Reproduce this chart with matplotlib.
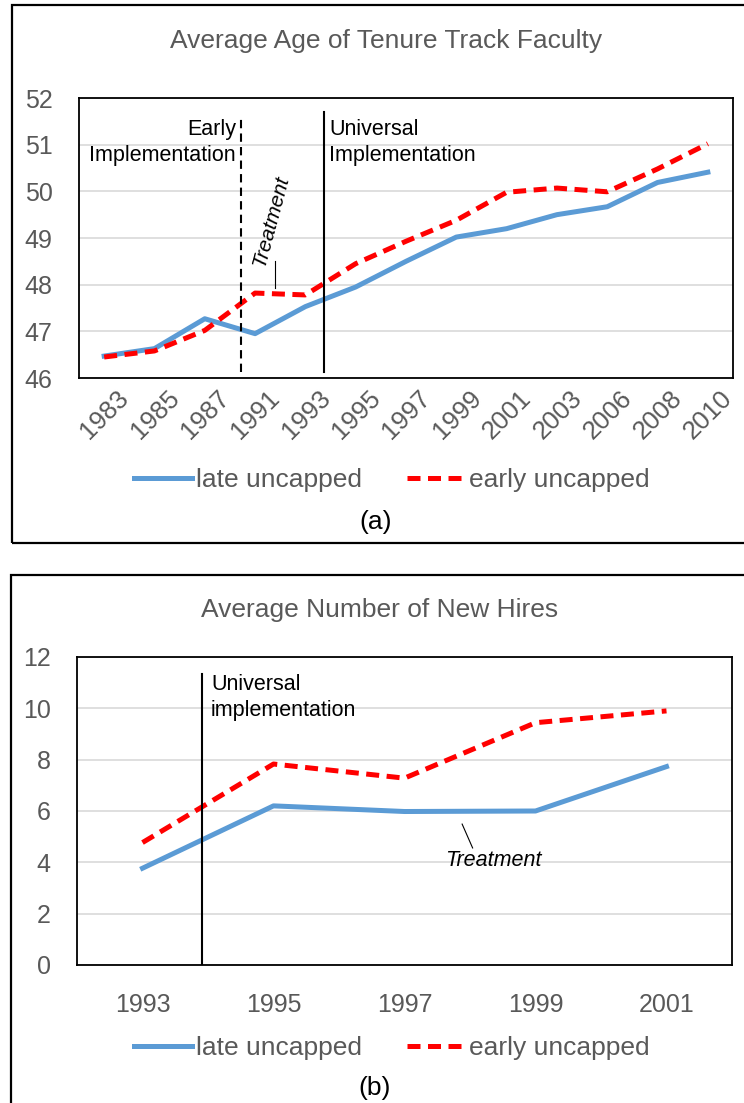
import matplotlib.pyplot as plt
from matplotlib.patches import Rectangle
from matplotlib.lines import Line2D
from matplotlib.transforms import ScaledTranslation

plt.rcParams['font.family'] = ['Liberation Sans', 'DejaVu Sans']

# panel (a): average age of tenure track faculty
years_a = ['1983', '1985', '1987', '1991', '1993', '1995', '1997',
           '1999', '2001', '2003', '2006', '2008', '2010']
late_a = [46.47, 46.63, 47.27, 46.95, 47.53, 47.95, 48.5,
          49.02, 49.2, 49.5, 49.67, 50.19, 50.41]
early_a = [46.45, 46.58, 47.02, 47.82, 47.78, 48.45, 48.93,
           49.38, 49.98, 50.07, 49.99, 50.48, 51.02]

# panel (b): average number of new hires
years_b = ['1993', '1995', '1997', '1999', '2001']
late_b = [3.77, 6.2, 5.98, 6.0, 7.73]
early_b = [4.77, 7.83, 7.28, 9.44, 9.9]

# policy markers (category coordinates)
early_impl_x = 2.72
universal_x_a = 4.37
universal_x_b = 0.455

BLUE = '#5B9BD5'
RED = '#FF0000'
GRAY = '#595959'
GRID = '#D9D9D9'

fig = plt.figure(figsize=(7.44, 11.03), dpi=100)
W, H = 744, 1103


def px(x0, y0, x1, y1):
    # pixel box -> figure fraction rect
    return [x0 / W, 1 - y1 / H, (x1 - x0) / W, (y1 - y0) / H]


# outer frames
fig.patches.append(Rectangle((12 / W, 1 - 543 / H), 760 / W, 538 / H,
                             transform=fig.transFigure, fill=False,
                             edgecolor='black', linewidth=1.6))
fig.patches.append(Rectangle((11 / W, 1 - 1120 / H), 760 / W, 545 / H,
                             transform=fig.transFigure, fill=False,
                             edgecolor='black', linewidth=1.6))


def style_axes(ax, ymin, ymax, step):
    ax.set_ylim(ymin, ymax)
    ax.set_yticks(range(ymin, ymax + 1, step))
    ax.grid(axis='y', color=GRID, linewidth=1.2)
    ax.set_axisbelow(True)
    for s in ax.spines.values():
        s.set_color('black')
        s.set_linewidth(1.3)
    ax.tick_params(length=0, colors=GRAY, labelsize=18)
    ax.tick_params(axis='y', pad=19)


dash = (2.6, 1.5)

# ---- panel (a)
ax1 = fig.add_axes(px(79, 98, 733, 378))
xa = range(len(years_a))
ax1.plot(xa, late_a, color=BLUE, linewidth=3.6, solid_joinstyle='round')
ax1.plot(xa, early_a, color=RED, linewidth=3.6, dashes=dash)
ax1.set_xlim(-0.5, len(years_a) - 0.5)
style_axes(ax1, 46, 52, 1)
ax1.set_xticks(list(xa))
ax1.set_xticklabels(years_a, rotation=45, ha='right', va='top',
                    rotation_mode='anchor', fontsize=18.5)
ax1.tick_params(axis='x', pad=6)
shift = ScaledTranslation(9 / 72, 0, fig.dpi_scale_trans)
for lab in ax1.get_xticklabels():
    lab.set_transform(lab.get_transform() + shift)

ax1.plot([early_impl_x, early_impl_x], [46.13, 51.56], color='black',
         linewidth=1.5, dashes=(4, 2.5))
ax1.plot([universal_x_a, universal_x_a], [46.13, 51.69], color='black',
         linewidth=1.5)
ax1.text(2.62, 51.05, 'Early\nImplementation', ha='right', va='center',
         multialignment='right', fontsize=15.5, linespacing=1.3)
ax1.text(4.47, 51.05, 'Universal\nImplementation', ha='left', va='center',
         fontsize=15.5, linespacing=1.3)
ax1.text(3.32, 49.35, 'Treatment', rotation=75, ha='center', va='center',
         fontsize=15, style='italic')
ax1.plot([3.40, 3.40], [48.5, 47.93], color='black', linewidth=0.8)

fig.text(386 / W, 1 - 41 / H, 'Average Age of Tenure Track Faculty',
         ha='center', va='center', fontsize=19, color=GRAY)

handles = [Line2D([], [], color=BLUE, linewidth=3.6),
           Line2D([], [], color=RED, linewidth=3.6, dashes=dash)]
labels = ['late uncapped', 'early uncapped']
fig.legend(handles, labels, loc='center', bbox_to_anchor=(392 / W, 1 - 480 / H),
           ncol=2, frameon=False, fontsize=19, labelcolor=GRAY,
           handlelength=2.2, handletextpad=0.15, columnspacing=1.7)
fig.text(376 / W, 1 - 522 / H, '(a)', ha='center', va='center',
         fontsize=19, color='black')

# ---- panel (b)
ax2 = fig.add_axes(px(77, 657, 732, 965))
xb = range(len(years_b))
ax2.plot(xb, late_b, color=BLUE, linewidth=3.6, solid_joinstyle='round')
ax2.plot(xb, early_b, color=RED, linewidth=3.6, dashes=dash)
ax2.set_xlim(-0.5, len(years_b) - 0.5)
style_axes(ax2, 0, 12, 2)
ax2.set_xticks(list(xb))
ax2.set_xticklabels(years_b)
ax2.tick_params(axis='x', pad=20)

ax2.plot([universal_x_b, universal_x_b], [0, 11.34], color='black',
         linewidth=1.5)
ax2.text(0.523, 10.42, 'Universal\nimplementation', ha='left', va='center',
         fontsize=15.5, linespacing=1.3)
ax2.text(2.676, 4.09, 'Treatment', ha='center', va='center',
         fontsize=15.5, style='italic')
ax2.plot([2.44, 2.52], [5.49, 4.56], color='black', linewidth=0.8)

fig.text(380 / W, 1 - 610 / H, 'Average Number of New Hires',
         ha='center', va='center', fontsize=19, color=GRAY)
fig.legend(handles, labels, loc='center', bbox_to_anchor=(392 / W, 1 - 1048 / H),
           ncol=2, frameon=False, fontsize=19, labelcolor=GRAY,
           handlelength=2.2, handletextpad=0.15, columnspacing=1.7)
fig.text(375 / W, 1 - 1088 / H, '(b)', ha='center', va='center',
         fontsize=19, color='black')

fig.savefig('out.png', dpi=100)
